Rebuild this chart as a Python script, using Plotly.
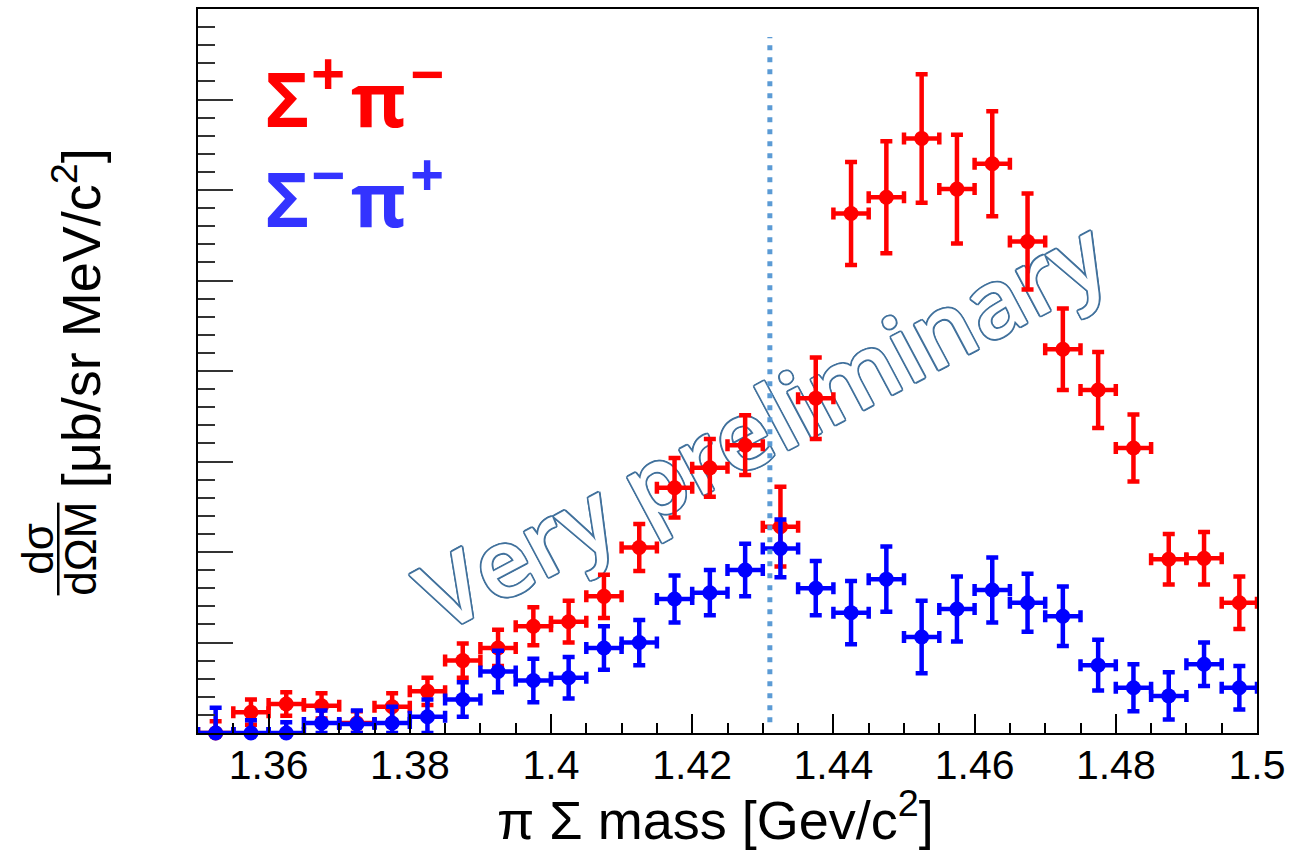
import plotly.graph_objects as go

# ---------------- data ----------------
mass_bins = [1.3525, 1.3575, 1.3625, 1.3675, 1.3725, 1.3775, 1.3825, 1.3875, 1.3925, 1.3975,
             1.4025, 1.4075, 1.4125, 1.4175, 1.4225, 1.4275, 1.4325, 1.4375, 1.4425, 1.4475,
             1.4525, 1.4575, 1.4625, 1.4675, 1.4725, 1.4775, 1.4825, 1.4875, 1.4925, 1.4975]
bin_half_width = 0.0025

sigp_pim = [0.00, 0.23, 0.32, 0.30, 0.11, 0.29, 0.46, 0.80, 0.94, 1.18,
            1.23, 1.51, 2.05, 2.71, 2.93, 3.18, 2.28, 3.70, 5.74, 5.92,
            6.57, 6.01, 6.29, 5.43, 4.24, 3.79, 3.15, 1.92, 1.93, 1.44]
sigp_pim_err = [0.13, 0.14, 0.13, 0.14, 0.13, 0.15, 0.15, 0.19, 0.20, 0.21,
                0.23, 0.24, 0.26, 0.33, 0.32, 0.33, 0.44, 0.45, 0.57, 0.62,
                0.71, 0.60, 0.58, 0.53, 0.45, 0.42, 0.37, 0.28, 0.29, 0.29]

sigm_pip = [0.00, 0.00, 0.00, 0.11, 0.10, 0.11, 0.18, 0.37, 0.68, 0.58,
            0.61, 0.94, 1.00, 1.48, 1.55, 1.80, 2.04, 1.60, 1.33, 1.70,
            1.06, 1.37, 1.58, 1.44, 1.29, 0.75, 0.50, 0.41, 0.76, 0.50]
sigm_pip_err = [0.28, 0.14, 0.12, 0.14, 0.15, 0.18, 0.19, 0.19, 0.23, 0.24,
                0.23, 0.24, 0.25, 0.26, 0.25, 0.29, 0.32, 0.30, 0.35, 0.36,
                0.40, 0.36, 0.36, 0.32, 0.33, 0.28, 0.26, 0.26, 0.24, 0.24]

x_tick_vals = [1.36, 1.38, 1.40, 1.42, 1.44, 1.46, 1.48, 1.50]
x_tick_text = ["1.36", "1.38", "1.4", "1.42", "1.44", "1.46", "1.48", "1.5"]

threshold_mass = 1.4310
threshold_span = [0.12, 7.69]

# ---------------- layout helpers (pixel -> paper) ----------------
W, H = 1293, 850
L, R, T, B = 198, 1259, 7, 733


def px_x(px):
    return (px - L) / (R - L)


def px_y(py):
    return (B - py) / (B - T)


def minus_err(vals, errs):
    return [min(e, v) for v, e in zip(vals, errs)]


fig = go.Figure()

for vals, errs, col, nm in [(sigp_pim, sigp_pim_err, "#ff0000", "Σ+π−"),
                            (sigm_pip, sigm_pip_err, "#0000ff", "Σ−π+")]:
    fig.add_trace(go.Scatter(
        x=mass_bins, y=vals, mode="markers", cliponaxis=False, name=nm,
        marker=dict(symbol="circle", size=15, color=col),
        error_y=dict(type="data", array=errs, arrayminus=minus_err(vals, errs),
                     color=col, thickness=4.5, width=6),
        error_x=dict(type="constant", value=bin_half_width, color=col, thickness=4.5, width=6)))

axis_font = dict(family="Liberation Sans, Arial, sans-serif", size=41, color="black")

fig.update_layout(
    width=W, height=H,
    margin=dict(l=L, r=W - R, t=T, b=H - B, pad=0),
    plot_bgcolor="white", paper_bgcolor="white",
    showlegend=False,
    xaxis=dict(range=[1.35, 1.5], tickmode="array", tickvals=x_tick_vals, ticktext=x_tick_text,
               ticks="inside", ticklen=19, tickwidth=2, tickcolor="black",
               minor=dict(ticks="inside", ticklen=10, tickwidth=2, tickcolor="black",
                          tickmode="linear", tick0=1.35, dtick=0.005),
               showline=True, linecolor="black", linewidth=2, mirror=True,
               showgrid=False, zeroline=False, tickfont=axis_font, ticklabelstandoff=-5),
    yaxis=dict(range=[0, 8], tickmode="linear", tick0=0, dtick=1,
               ticks="inside", ticklen=35, tickwidth=2, tickcolor="#333333",
               minor=dict(ticks="inside", ticklen=17, tickwidth=2, tickcolor="#333333",
                          tickmode="linear", tick0=0, dtick=0.2),
               showticklabels=False,
               showline=True, linecolor="black", linewidth=2, mirror=True,
               showgrid=False, zeroline=False),
)

# watermark (below data)
outline = "#41719c"
shadow = ", ".join(f"{dx}px {dy}px 0 {outline}" for dx, dy in
                   [(1.8, 0), (-1.8, 0), (0, 1.8), (0, -1.8),
                    (1.3, 1.3), (-1.3, -1.3), (1.3, -1.3), (-1.3, 1.3)])
fig.add_shape(type="rect", xref="paper", yref="paper",
              x0=px_x(745), x1=px_x(785), y0=px_y(448), y1=px_y(408),
              line=dict(width=0), fillcolor="rgba(0,0,0,0)", layer="below",
              label=dict(text="Very preliminary", textangle=-28, textposition="middle center",
                         font=dict(family="Open Sans", size=95, weight=600,
                                   color="white", shadow=shadow)))

# dotted threshold line
fig.add_shape(type="line", xref="x", yref="y",
              x0=threshold_mass, x1=threshold_mass, y0=threshold_span[0], y1=threshold_span[1],
              line=dict(color="#5b9bd5", width=5, dash="5px,7px"), layer="above")

# channel labels (glyph by glyph, superscripts about 80 % size)
label_rows = [
    ("#ff0000", 96, ["Σ", "+", "π", "−"]),
    ("#3333ff", 197, ["Σ", "−", "π", "+"]),
]
glyph_x = [287, 328, 379, 427]
for col, ymid, glyphs in label_rows:
    for i, g in enumerate(glyphs):
        is_sup = i % 2 == 1
        fig.add_annotation(xref="paper", yref="paper", x=px_x(glyph_x[i]),
                           y=px_y(ymid - 25 if is_sup else ymid),
                           xanchor="center", yanchor="middle", showarrow=False,
                           text=f"<b>{g}</b>",
                           font=dict(family="Open Sans", size=60 if is_sup else 75, color=col))

# x-axis title
title_font = dict(family="Liberation Sans, Arial, sans-serif", size=54, color="black")
fig.add_annotation(xref="paper", yref="paper", x=px_x(716), y=px_y(816),
                   xanchor="center", yanchor="middle", showarrow=False,
                   text="π Σ mass [Gev/c<sup>2</sup>]", font=title_font)

# y-axis title: fraction + units
frac_font = dict(family="Liberation Sans, Arial, sans-serif", size=44, color="black")
fig.add_annotation(xref="paper", yref="paper", x=px_x(37), y=px_y(548),
                   xanchor="center", yanchor="middle", showarrow=False, textangle=-90,
                   text="dσ", font=frac_font)
fig.add_annotation(xref="paper", yref="paper", x=px_x(80), y=px_y(548),
                   xanchor="center", yanchor="middle", showarrow=False, textangle=-90,
                   text="dΩM", font=frac_font)
fig.add_shape(type="line", xref="paper", yref="paper",
              x0=px_x(58), x1=px_x(58), y0=px_y(502), y1=px_y(595),
              line=dict(color="black", width=2.5))
fig.add_annotation(xref="paper", yref="paper", x=px_x(77), y=px_y(317),
                   xanchor="center", yanchor="middle", showarrow=False, textangle=-90,
                   text="[μb/sr MeV/c<sup>2</sup>]",
                   font=dict(family="Liberation Sans, Arial, sans-serif", size=54, color="black"))

fig.write_html("out.html")
